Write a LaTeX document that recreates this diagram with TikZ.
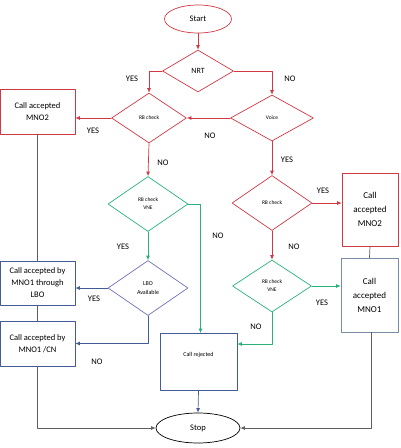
\documentclass[tikz,border=0pt]{standalone}
\usepackage{fontspec}
\setmainfont{Carlito}
\usetikzlibrary{shapes.geometric,arrows.meta}
\definecolor{flred}{RGB}{208,56,68}
\definecolor{flgreen}{RGB}{40,178,120}
\definecolor{flviolet}{RGB}{110,112,190}
\definecolor{flblue}{RGB}{68,92,150}
\definecolor{flslate}{RGB}{120,140,165}
\definecolor{flgray}{RGB}{95,95,95}

\begin{document}
\begin{tikzpicture}[x=1pt,y=-1pt, line cap=round, line join=round]

\tikzset{
  line/.style={line width=0.7pt},
  arr/.style={line, -{Latex[length=4.5pt,width=4pt]}},
  term/.style={ellipse, draw=black, line width=0.7pt, inner sep=0pt, font=\fontsize{8.5}{10}\selectfont},
  dec/.style={diamond, line width=0.7pt, inner sep=0pt, align=center, font=\fontsize{5.5}{8}\selectfont},
  proc/.style={rectangle, line width=0.7pt, inner sep=1pt, align=center, font=\fontsize{8.5}{12}\selectfont},
  lab/.style={font=\fontsize{8.5}{10}\selectfont},
}

\useasboundingbox (0,0) rectangle (400,448);

% terminals
\node[term, draw=flred, minimum width=67, minimum height=28] (start) at (198,19) {Start};
\node[term, minimum width=84, minimum height=30] (stop) at (198,428) {Stop};

% decisions
\node[dec, draw=flred, minimum width=71, minimum height=42, font=\fontsize{8}{10}\selectfont] (nrt) at (198,71) {NRT};
\node[dec, draw=flred, minimum width=75, minimum height=50] (rbl) at (149,118) {RB check};
\node[dec, draw=flred, minimum width=83, minimum height=46] (voice) at (272,118) {Voice};
\node[dec, draw=flgreen, minimum width=80, minimum height=55] (vnel) at (148,204) {RB check\\VNE};
\node[dec, draw=flviolet, minimum width=80, minimum height=55, font=\fontsize{6}{8.5}\selectfont] (lbo) at (148,288) {LBO\\Available};
\node[dec, draw=flred, minimum width=80, minimum height=55] (rbr) at (272,203) {RB check};
\node[dec, draw=flgreen, minimum width=79, minimum height=52] (vner) at (272,286) {RB check\\VNE};

% boxes
\node[proc, draw=flred, minimum width=75, minimum height=45] (mnotwol) at (37.5,111.5) {Call accepted\\MNO2};
\node[proc, draw=flblue, minimum width=75, minimum height=44] (mnolbo) at (37.5,283) {Call accepted by\\MNO1 through\\LBO};
\node[proc, draw=flblue, minimum width=75, minimum height=45] (mnocn) at (37.5,343.5) {Call accepted by\\MNO1 /CN};
\node[proc, draw=flred, minimum width=56, minimum height=73, font=\fontsize{9}{14}\selectfont] (mnotwor) at (370,209.5) {Call\\accepted\\MNO2};
\node[proc, draw=flslate, minimum width=57, minimum height=74, font=\fontsize{9}{14}\selectfont] (mnoone) at (369.5,295) {Call\\accepted\\MNO1};
\node[proc, draw=flblue, minimum width=77, minimum height=57, font=\fontsize{6}{8}\selectfont, anchor=north] (rej) at (198.5,333) {\raisebox{14pt}{Call rejected}};

% red flow
\draw[arr, flred] (start) -- (nrt);
\draw[arr, flred] (nrt.west) -| (rbl.north);
\draw[arr, flred] (nrt.east) -| (voice.north);
\draw[arr, flred] (voice.west) -- (rbl.east);
\draw[arr, flred] (rbl.west) -- (rbl.west -| mnotwol.east);
\draw[arr, flred] (rbl.south) -- (vnel.north);
\draw[arr, flred] (voice.south) -- (rbr.north);
\draw[arr, flred] (rbr.east) -- (rbr.east -| mnotwor.west);
\draw[arr, flred] (rbr.south) -- (vner.north);

% green flow
\draw[arr, flgreen] (vnel.east) -| ([xshift=2pt]rej.north);
\draw[arr, flgreen] (vnel.south) -- (lbo.north);
\draw[arr, flgreen] (vner.east) -- (vner.east -| mnoone.west);
\draw[arr, flgreen] (vner.south) |- ([yshift=-11pt]rej.north east);

% blue flow
\draw[arr, flblue] (lbo.west) -- (lbo.west -| mnolbo.east);
\draw[arr, flblue] (lbo.south) |- (mnocn.east);
\draw[arr, flblue] (rej.south) -- (stop.north);

% gray links
\draw[line, flgray] (mnotwol.south) -- (mnolbo.north);
\draw[line, flgray] (mnolbo.south) -- (mnocn.north);
\draw[line, flgray] (mnotwor.south) -- (mnoone.north);
\draw[arr, flgray] (mnocn.south) |- (stop.west);
\draw[arr, flgray] ([xshift=1.5pt]mnoone.south) |- (stop.east);

% labels
\node[lab] at (132,79) {YES};
\node[lab] at (290,79) {NO};
\node[lab] at (93,131) {YES};
\node[lab] at (210,136) {NO};
\node[lab] at (163,163) {NO};
\node[lab] at (218,236) {NO};
\node[lab] at (123,247) {YES};
\node[lab] at (94,299) {YES};
\node[lab] at (97,362) {NO};
\node[lab] at (287,160) {YES};
\node[lab] at (323,191) {YES};
\node[lab] at (294,247) {NO};
\node[lab] at (322,303) {YES};
\node[lab] at (256,327) {NO};

\end{tikzpicture}
\end{document}
